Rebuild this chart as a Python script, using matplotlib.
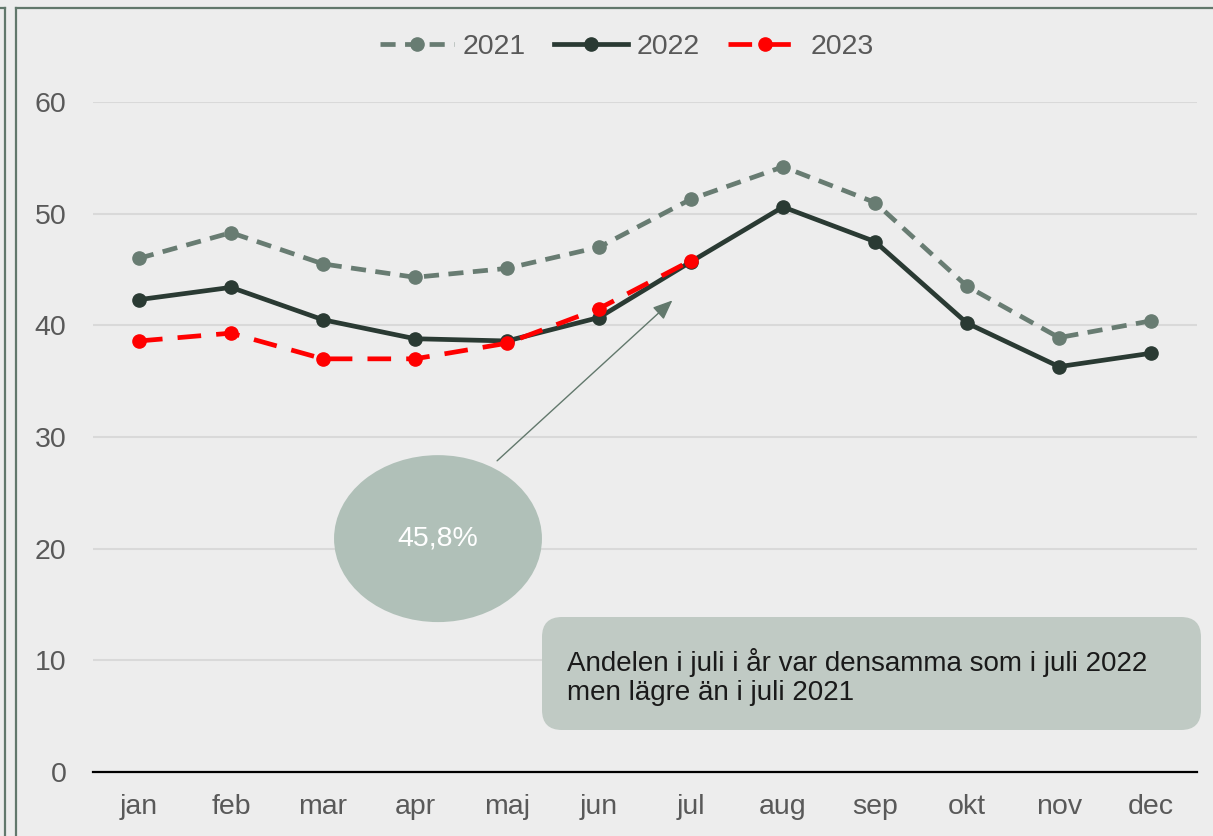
import matplotlib.pyplot as plt
from matplotlib.patches import Ellipse, FancyBboxPatch
from matplotlib.lines import Line2D

months = ["jan", "feb", "mar", "apr", "maj", "jun", "jul", "aug", "sep", "okt", "nov", "dec"]
y2021 = [46.0, 48.3, 45.5, 44.3, 45.1, 47.0, 51.3, 54.2, 51.0, 43.5, 38.9, 40.4]
y2022 = [42.3, 43.4, 40.5, 38.8, 38.6, 40.7, 45.7, 50.6, 47.5, 40.2, 36.3, 37.5]
y2023 = [38.6, 39.3, 37.0, 37.0, 38.4, 41.5, 45.8]
yticks = [0, 10, 20, 30, 40, 50, 60]

bg = "#ededed"
frame_col = "#62786c"
c2021 = "#687c72"
c2022 = "#2a3a33"
c2023 = "#ff0000"

plt.rcParams["font.family"] = ["Liberation Sans", "DejaVu Sans"]

W, H = 1213, 836
fig = plt.figure(figsize=(W / 100, H / 100), dpi=100, facecolor=bg)
ax = fig.add_axes([93 / W, 1 - 772 / H, 1104 / W, 670 / H])
ax.set_facecolor(bg)

x = list(range(len(months)))
ax.plot(x, y2021, color=c2021, lw=3.4, dashes=(3.2, 2.0), marker="o", ms=9.5, label="2021", zorder=3)
ax.plot(x, y2022, color=c2022, lw=3.4, marker="o", ms=9.5, label="2022", zorder=4)
ax.plot(x[:len(y2023)], y2023, color=c2023, lw=3.4, dashes=(5.0, 3.2), marker="o", ms=9.5, label="2023", zorder=5)

ax.set_xlim(-0.5, 11.5)
ax.set_ylim(0, 60)
ax.set_xticks(x)
ax.set_xticklabels(months)
ax.set_yticks(yticks)
ax.tick_params(length=0, labelsize=20.5, labelcolor="#595959")
ax.tick_params(axis="y", pad=19)
ax.tick_params(axis="x", pad=16)
ax.grid(axis="y", color="#d9d9d9", lw=1.5)
ax.set_axisbelow(True)
for s in ["left", "right", "top"]:
    ax.spines[s].set_visible(False)
ax.spines["bottom"].set_color("black")
ax.spines["bottom"].set_linewidth(1.6)
ax.spines["bottom"].set_zorder(6)

# callout bubble with arrow
ax.add_patch(Ellipse((3.25, 20.9), 2.26, 14.95, facecolor="#b0c0b8", edgecolor="none", zorder=2))
ax.text(3.25, 20.9, "45,8%", color="white", fontsize=20.5, ha="center", va="center", zorder=3)
ax.annotate("", xy=(5.82, 42.4), xytext=(3.87, 27.7),
            arrowprops=dict(arrowstyle="-|>,head_length=1.2,head_width=0.5", color=frame_col, lw=1),
            zorder=2)

# text box
r = 20
box = FancyBboxPatch((542 / W, 1 - 730 / H), 659 / W, 113 / H, transform=fig.transFigure,
                     boxstyle=f"round,pad=0,rounding_size={r / W}", mutation_aspect=W / H,
                     facecolor="#c0cac4", edgecolor="none", zorder=1)
fig.patches.append(box)
fig.text(567 / W, 1 - 677 / H, "Andelen i juli i år var densamma som i juli 2022\nmen lägre än i juli 2021",
         fontsize=20, color="#1a1a1a", ha="left", va="center", linespacing=1.15, zorder=2)

ax.legend(loc="center", bbox_to_anchor=(627 / W, 1 - 47 / H), bbox_transform=fig.transFigure,
          ncol=3, frameon=False, fontsize=20.5, labelcolor="#595959",
          handlelength=2.6, handletextpad=0.3, columnspacing=1.0)

# frame lines of the surrounding panel
fig.add_artist(Line2D([16 / W, 16 / W], [0, 1 - 7.5 / H], color=frame_col, lw=1.6, transform=fig.transFigure))
fig.add_artist(Line2D([16 / W, 1], [1 - 7.5 / H, 1 - 7.5 / H], color=frame_col, lw=1.6, transform=fig.transFigure))
fig.add_artist(Line2D([5 / W, 5 / W], [0, 1 - 7.5 / H], color=frame_col, lw=1.6, transform=fig.transFigure))
fig.add_artist(Line2D([0, 5 / W], [1 - 7.5 / H, 1 - 7.5 / H], color=frame_col, lw=1.6, transform=fig.transFigure))

fig.savefig("out.png", dpi=100, facecolor=bg)
